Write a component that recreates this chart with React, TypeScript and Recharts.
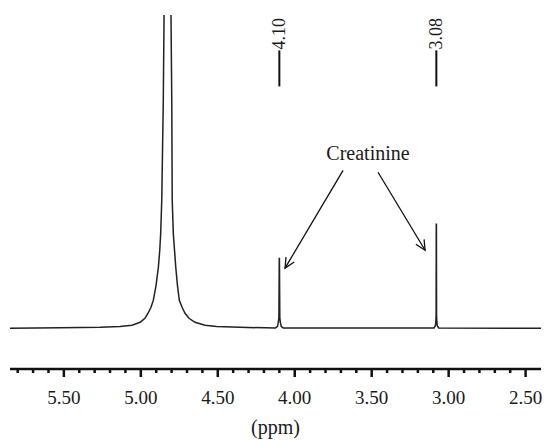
import React from "react";
import {
  LineChart,
  Line,
  XAxis,
  YAxis,
  ReferenceLine,
  ReferenceDot,
} from "recharts";

// chemical shift (ppm) and signal intensity
const ppm = [
  5.85, 5.525, 5.265, 5.135, 5.057, 5.005, 4.973, 4.953, 4.934, 4.919, 4.901,
  4.886, 4.877, 4.871, 4.864, 4.854, 4.849, 4.826, 4.804, 4.799, 4.796, 4.789,
  4.781, 4.773, 4.762, 4.75, 4.732, 4.713, 4.687, 4.648, 4.583, 4.507, 4.356,
  4.193, 4.125, 4.112, 4.106, 4.103, 4.1005, 4.0995, 4.097, 4.094, 4.088,
  4.075, 3.6, 3.095, 3.086, 3.083, 3.0815, 3.0805, 3.0795, 3.0785, 3.077,
  3.074, 3.065, 2.4,
];
const intensity = [
  0, 0.15, 0.3, 0.6, 1.0, 1.9, 3.2, 4.8, 6.7, 8.9, 13.7, 19.5, 24.9, 30.3,
  40.9, 72.8, 99.9, 600, 99.9, 72.8, 40.9, 30.3, 24.9, 19.5, 13.7, 8.9, 6.7,
  4.8, 3.2, 1.9, 1.0, 0.6, 0.3, 0.15, 0.1, 0.6, 2.0, 3.5, 22.3, 22.3, 3.5,
  2.0, 0.6, 0.1, 0.05, 0.1, 0.8, 2.5, 4.2, 33.2, 33.2, 4.2, 2.5, 0.8, 0.1, 0,
];

const axisTicks = [
  5.8, 5.7, 5.6, 5.5, 5.4, 5.3, 5.2, 5.1, 5.0, 4.9, 4.8, 4.7, 4.6, 4.5, 4.4,
  4.3, 4.2, 4.1, 4.0, 3.9, 3.8, 3.7, 3.6, 3.5, 3.4, 3.3, 3.2, 3.1, 3.0, 2.9,
  2.8, 2.7, 2.6, 2.5,
];
const majorLabels = ["5.50", "5.00", "4.50", "4.00", "3.50", "3.00", "2.50"];

const peakLabels = ["4.10", "3.08"];
const compoundName = "Creatinine";

const data = ppm.map((p, i) => ({ ppm: p, intensity: intensity[i] }));

const FONT = '"Liberation Serif", "DejaVu Serif", serif';
const INK = "#1a1a1a";

const AxisTick = (props: any) => {
  const { x, y, payload } = props;
  const label = majorLabels.find(
    (l) => Math.abs(parseFloat(l) - payload.value) < 1e-6
  );
  return (
    <g>
      <line
        x1={x}
        x2={x}
        y1={y}
        y2={y + (label ? 8 : 4)}
        stroke="#111"
        strokeWidth={2.5}
      />
      {label && (
        <text
          x={x}
          y={y + 35}
          textAnchor="middle"
          fontSize={19}
          fontFamily={FONT}
          fill={INK}
        >
          {label}
        </text>
      )}
    </g>
  );
};

const peakMarker = (text: string) => (props: any) => {
  const { x1, y1, x2, y2 } = props;
  const top = Math.min(y1, y2);
  return (
    <g>
      <line x1={x1} y1={y1} x2={x2} y2={y2} stroke="#111" strokeWidth={2} />
      <text
        transform={`translate(${x1 + 6}, ${top - 1}) rotate(-90)`}
        fontSize={18}
        fontFamily={FONT}
        fill={INK}
      >
        {text}
      </text>
    </g>
  );
};

const Arrow = (props: any) => {
  const { x1, y1, x2, y2 } = props;
  const ang = Math.atan2(y2 - y1, x2 - x1);
  const len = 11;
  const spread = 0.45;
  const pts = [ang + Math.PI - spread, ang + Math.PI + spread].map(
    (t) => `${x2 + len * Math.cos(t)},${y2 + len * Math.sin(t)}`
  );
  return (
    <g>
      <line x1={x1} y1={y1} x2={x2} y2={y2} stroke="#111" strokeWidth={1.3} />
      <polyline
        points={`${pts[0]} ${x2},${y2} ${pts[1]}`}
        fill="none"
        stroke="#111"
        strokeWidth={1.3}
      />
    </g>
  );
};

export default function App() {
  return (
    <div style={{ position: "absolute", left: 0, top: 0, background: "#fff" }}>
      <LineChart
        width={544}
        height={440}
        data={data}
        margin={{ top: 15, right: 3, bottom: 0, left: 10 }}
      >
        <XAxis
          dataKey="ppm"
          type="number"
          domain={[2.4, 5.85]}
          allowDataOverflow
          reversed
          ticks={axisTicks}
          interval={0}
          height={71}
          tickSize={0}
          tickMargin={0}
          tickLine={false}
          tick={<AxisTick />}
          axisLine={{ stroke: "#111", strokeWidth: 2.5 }}
          label={{
            value: "(ppm)",
            position: "insideBottom",
            offset: 6,
            fontSize: 20,
            fontFamily: FONT,
            fill: INK,
          }}
        />
        <YAxis type="number" domain={[-13, 100]} allowDataOverflow hide />
        <Line
          type="linear"
          dataKey="intensity"
          stroke="#222"
          strokeWidth={1.5}
          dot={false}
          isAnimationActive={false}
        />
        <ReferenceLine
          segment={[
            { x: 4.1, y: 77.2 },
            { x: 4.1, y: 88.7 },
          ]}
          shape={peakMarker(peakLabels[0])}
        />
        <ReferenceLine
          segment={[
            { x: 3.08, y: 77.2 },
            { x: 3.08, y: 88.7 },
          ]}
          shape={peakMarker(peakLabels[1])}
        />
        <ReferenceLine
          segment={[
            { x: 3.686, y: 50.4 },
            { x: 4.063, y: 19.2 },
          ]}
          shape={Arrow}
        />
        <ReferenceLine
          segment={[
            { x: 3.459, y: 49.8 },
            { x: 3.153, y: 24.9 },
          ]}
          shape={Arrow}
        />
        <ReferenceDot
          x={3.524}
          y={53.6}
          r={0}
          shape={(p: any) => (
            <text
              x={p.cx}
              y={p.cy}
              textAnchor="middle"
              fontSize={20}
              fontFamily={FONT}
              fill={INK}
            >
              {compoundName}
            </text>
          )}
        />
      </LineChart>
    </div>
  );
}
